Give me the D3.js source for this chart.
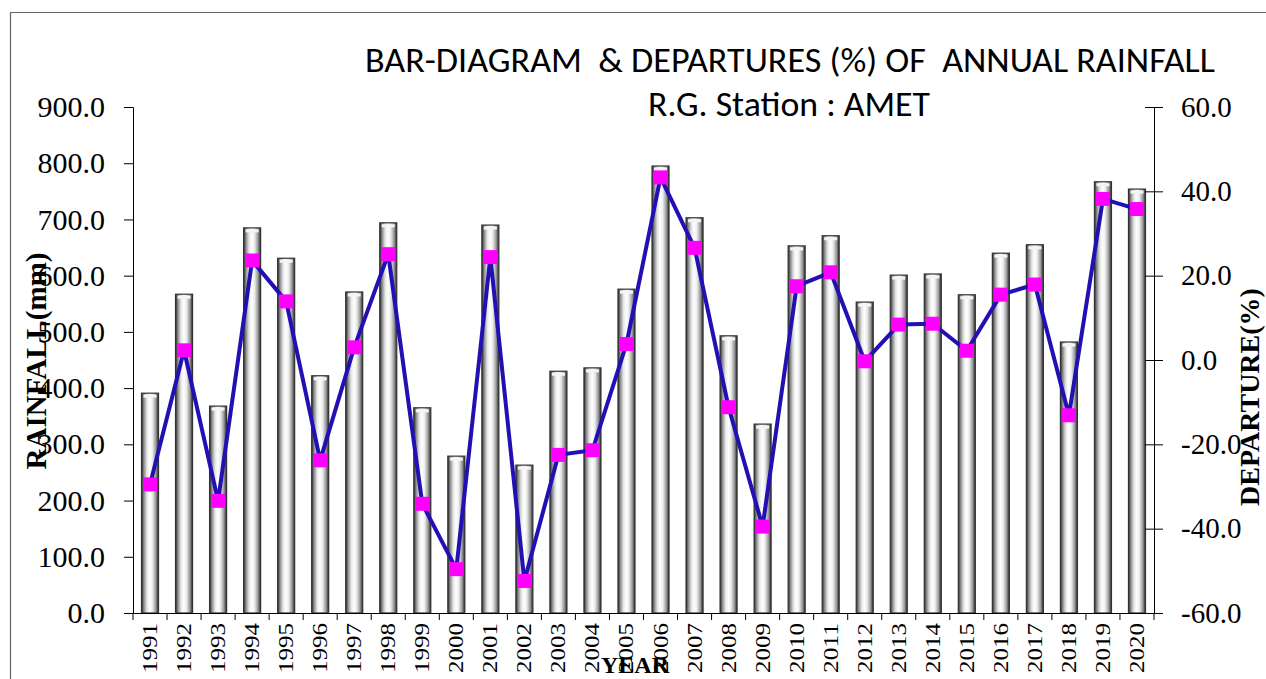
<!DOCTYPE html>
<html>
<head>
<meta charset="utf-8">
<script src="https://cdn.jsdelivr.net/npm/d3@7"></script>
<style>
  html, body { margin: 0; padding: 0; background: #fff; }
  svg { display: block; }
</style>
</head>
<body>
<svg id="chart" width="1266" height="679"></svg>
<script>
// Annual rainfall (mm) and departure from normal (%) for R.G. Station AMET
const years = [1991, 1992, 1993, 1994, 1995, 1996, 1997, 1998, 1999, 2000,
               2001, 2002, 2003, 2004, 2005, 2006, 2007, 2008, 2009, 2010,
               2011, 2012, 2013, 2014, 2015, 2016, 2017, 2018, 2019, 2020];
const rainfall = [391, 567, 368, 685, 631, 422, 571, 694, 365, 279,
                  690, 263, 430, 436, 576, 795, 703, 493, 336, 653,
                  671, 553, 601, 603, 566, 640, 655, 482, 767, 754];
const departure = [-29.5, 2.3, -33.4, 23.6, 13.9, -23.8, 3.0, 25.1, -34.1, -49.6,
                   24.4, -52.4, -22.5, -21.4, 3.8, 43.3, 26.6, -11.2, -39.5, 17.5,
                   20.8, -0.3, 8.4, 8.6, 2.2, 15.5, 17.9, -13.1, 38.2, 35.8];
const rainTicks = [0, 100, 200, 300, 400, 500, 600, 700, 800, 900];
const depTicks = [-60, -40, -20, 0, 20, 40, 60];

const svg = d3.select("#chart");
const plotLeft = 133, plotRight = 1154, plotTop = 107, plotBottom = 613;

const x = d3.scaleBand().domain(years).range([plotLeft, plotRight]).paddingInner(0.5).paddingOuter(0.25);
const yRain = d3.scaleLinear().domain([0, 900]).range([plotBottom, plotTop]);
const yDep = d3.scaleLinear().domain([-60, 60]).range([plotBottom, plotTop]);
const oneDecimal = d => d.toFixed(1);

// chart frame (only top and left edges fall inside the view)
svg.append("path")
  .attr("d", "M10.5,679 L10.5,12.5 L1266,12.5")
  .attr("fill", "none").attr("stroke", "#666").attr("stroke-width", 1.2);

// cylinder shading for the bars
const defs = svg.append("defs");
const grad = defs.append("linearGradient").attr("id", "cyl").attr("x1", "0").attr("x2", "1").attr("y1", "0").attr("y2", "0");
[[0, "#2a2a2a"], [0.14, "#8c8c8c"], [0.32, "#e6e6e6"], [0.48, "#ffffff"], [0.64, "#ececec"],
 [0.84, "#9a9a9a"], [1, "#2a2a2a"]].forEach(([o, c]) =>
  grad.append("stop").attr("offset", o).attr("stop-color", c));
defs.append("filter").attr("id", "soft")
  .append("feGaussianBlur").attr("stdDeviation", 0.5);

// bars
const bars = svg.append("g").attr("filter", "url(#soft)");
bars.selectAll("rect.bar").data(years).join("rect")
  .attr("class", "bar")
  .attr("x", d => x(d))
  .attr("width", x.bandwidth())
  .attr("y", (d, i) => yRain(rainfall[i]))
  .attr("height", (d, i) => plotBottom - yRain(rainfall[i]))
  .attr("fill", "url(#cyl)")
  .attr("stroke", "#333").attr("stroke-width", 1.2);
// lighter cap at the top of each cylinder
bars.selectAll("rect.cap").data(years).join("rect")
  .attr("class", "cap")
  .attr("x", d => x(d) + 2)
  .attr("width", x.bandwidth() - 4)
  .attr("y", (d, i) => yRain(rainfall[i]) + 1.5)
  .attr("height", 3)
  .attr("fill", "#f4f4f4");

// left axis
const fontTick = "'Liberation Serif', 'Times New Roman', serif";
const gl = svg.append("g").attr("transform", `translate(${plotLeft},0)`)
  .call(d3.axisLeft(yRain).tickValues(rainTicks).tickFormat(oneDecimal).tickSize(9).tickPadding(19));
gl.select(".domain").attr("stroke", "#000");
gl.selectAll("text").attr("font-family", fontTick).attr("font-size", 30).attr("fill", "#000");

// right axis with crossing ticks
const gr = svg.append("g").attr("transform", `translate(${plotRight},0)`)
  .call(d3.axisRight(yDep).tickValues(depTicks).tickFormat(oneDecimal).tickSize(9).tickPadding(18));
gr.selectAll(".tick line").attr("x1", -9);
gr.select(".domain").attr("stroke", "#000");
gr.selectAll("text").attr("font-family", fontTick).attr("font-size", 29).attr("fill", "#000");

// bottom axis, ticks at category boundaries
svg.append("line").attr("x1", 124).attr("x2", 1163).attr("y1", plotBottom + 0.5).attr("y2", plotBottom + 0.5)
  .attr("stroke", "#000");
const step = x.step();
svg.append("g").selectAll("line").data(d3.range(years.length + 1)).join("line")
  .attr("x1", i => plotLeft + i * step).attr("x2", i => plotLeft + i * step)
  .attr("y1", plotBottom).attr("y2", plotBottom + 7)
  .attr("stroke", "#000");
svg.append("g").selectAll("text").data(years).join("text")
  .attr("transform", d => `translate(${x(d) + x.bandwidth() / 2},623) rotate(-90)`)
  .attr("text-anchor", "end")
  .attr("dy", "0.35em")
  .attr("font-family", fontTick).attr("font-size", 20)
  .attr("textLength", 50).attr("lengthAdjust", "spacingAndGlyphs")
  .text(d => d);

// departure line and markers
const line = d3.line().x((d, i) => x(years[i]) + x.bandwidth() / 2).y(d => yDep(d));
svg.append("path").datum(departure)
  .attr("d", line).attr("fill", "none")
  .attr("stroke", "#2210b4").attr("stroke-width", 4).attr("stroke-linejoin", "round");
svg.append("g").selectAll("rect").data(departure).join("rect")
  .attr("x", (d, i) => x(years[i]) + x.bandwidth() / 2 - 7)
  .attr("y", d => yDep(d) - 7)
  .attr("width", 14).attr("height", 14)
  .attr("fill", "#ff00ff");

// titles
const fontTitle = "Carlito, Lato, 'Open Sans', sans-serif";
svg.append("text").attr("x", 790).attr("y", 72).attr("text-anchor", "middle")
  .attr("font-family", fontTitle).attr("font-size", 34)
  .attr("textLength", 850).attr("lengthAdjust", "spacingAndGlyphs")
  .style("white-space", "pre")
  .text("BAR-DIAGRAM  & DEPARTURES (%) OF  ANNUAL RAINFALL");
svg.append("text").attr("x", 789).attr("y", 116).attr("text-anchor", "middle")
  .attr("font-family", fontTitle).attr("font-size", 34)
  .attr("textLength", 282).attr("lengthAdjust", "spacingAndGlyphs")
  .text("R.G. Station : AMET");

// axis titles
const fontAxis = "'Liberation Serif', 'Times New Roman', serif";
svg.append("text").attr("transform", "translate(46,361) rotate(-90)")
  .attr("text-anchor", "middle").attr("font-family", fontAxis).attr("font-weight", "bold")
  .attr("font-size", 29).text("RAINFALL(mm)");
svg.append("text").attr("transform", "translate(1259,397) rotate(-90)")
  .attr("text-anchor", "middle").attr("font-family", fontAxis).attr("font-weight", "bold")
  .attr("font-size", 28).text("DEPARTURE(%)");
svg.append("text").attr("x", 635).attr("y", 673).attr("text-anchor", "middle")
  .attr("font-family", fontAxis).attr("font-weight", "bold").attr("font-size", 24)
  .text("YEAR");
</script>
</body>
</html>
